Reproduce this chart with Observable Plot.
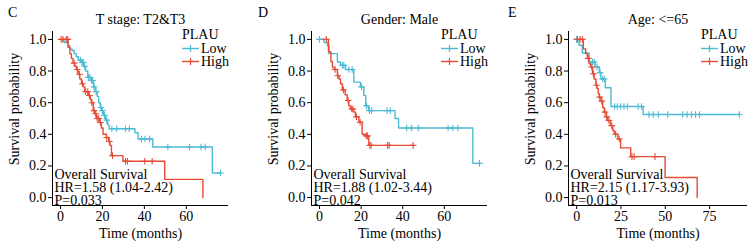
<!DOCTYPE html>
<html><head><meta charset="utf-8">
<script src="https://cdn.jsdelivr.net/npm/d3@7"></script>
<script src="https://cdn.jsdelivr.net/npm/@observablehq/plot@0.6"></script>
<style>
body{margin:0;background:#fff;}
#wrap{position:relative;width:749px;height:245px;font-family:"Liberation Serif","Times New Roman",serif;color:#000;overflow:hidden}
.panel{position:absolute;top:0;overflow:visible}
svg.panel, svg.panel text{font-family:"Liberation Serif","Times New Roman",serif !important;font-size:14px !important;}
svg.panel text{fill:#000;}
.letter{position:absolute;font-size:14px;top:5px}
.ylab{position:absolute;font-size:14px;white-space:nowrap;line-height:16px;transform:translate(-50%,-50%) rotate(-90deg);}
.legend{position:absolute;font-size:14px;line-height:13.5px;top:28px}
.legend div{white-space:nowrap;height:13.5px}
.legend svg{vertical-align:middle;margin-right:2px;position:relative;top:-1px}
</style></head><body><div id="wrap"></div>
<script>
// ---------- data ----------
const panelLetters = ["C", "D", "E"];
const panelTitles = ["T stage: T2&T3", "Gender: Male", "Age: <=65"];
const groups = ["Low", "High"];
const groupColors = ["#4DBBD5", "#E64B35"];
const legendTitle = "PLAU";
const annotations = [
  "Overall Survival\nHR=1.58 (1.04-2.42)\nP=0.033",
  "Overall Survival\nHR=1.88 (1.02-3.44)\nP=0.042",
  "Overall Survival\nHR=2.15 (1.17-3.93)\nP=0.013"
];
const xTicksC = [0, 20, 40, 60];
const xTicksD = [0, 20, 40, 60];
const xTicksE = [0, 25, 50, 75];
const yTicks = [0, 0.2, 0.4, 0.6, 0.8, 1.0];
const xLabel = "Time (months)";
const yLabel = "Survival probability";

// Panel C
const cLowTime = [1, 2, 3.5, 4.5, 5.5, 6.5, 7.5, 8.5, 9.8, 11, 12, 13, 14.5, 15.8, 16.5, 17.5, 18.2, 19, 19.6, 20.5, 21.5, 22.5, 23.2, 35.5, 37, 44, 72.4];
const cLowSurv = [0.99, 0.98, 0.96, 0.94, 0.93, 0.91, 0.89, 0.87, 0.855, 0.83, 0.80, 0.76, 0.74, 0.70, 0.67, 0.64, 0.60, 0.57, 0.55, 0.52, 0.49, 0.46, 0.435, 0.41, 0.37, 0.32, 0.155];
const cLowCensor = [9.5, 10.3, 10.8, 11.5, 13.3, 14.0, 14.8, 15.3, 16.0, 17.0, 19.3, 20.0, 21.0, 22.0, 24.5, 26.8, 31.0, 32.8, 38.6, 40.3, 42.5, 51.2, 61.5, 67.0, 69.0, 76.3];
const cHighTime = [3.6, 4.5, 5.2, 6, 6.8, 7.6, 8.4, 9.2, 10, 10.8, 11.6, 13.2, 14.2, 14.8, 15.6, 16.3, 17.1, 18.7, 19.5, 20.3, 21.9, 23.0, 23.6, 24.3, 29.8, 49.7, 67.9];
const cHighSurv = [0.95, 0.91, 0.88, 0.85, 0.83, 0.81, 0.78, 0.75, 0.72, 0.70, 0.67, 0.645, 0.62, 0.60, 0.55, 0.53, 0.50, 0.475, 0.44, 0.40, 0.38, 0.355, 0.33, 0.265, 0.23, 0.115, 0];
const cHighCensor = [0.3, 1.2, 2.8, 3.5, 6.5, 8.0, 9.0, 10.5, 12.0, 13.0, 13.8, 15.0, 16.0, 16.8, 17.5, 18.2, 19.0, 22.0, 23.3, 24.8, 31.0, 31.9, 40.2, 43.7];

// Panel D
const dLowTime = [2.2, 3.8, 4.6, 8.6, 10.1, 12.5, 16.5, 19.7, 21.3, 22.2, 23.6, 36.3, 38.0, 73.7];
const dLowSurv = [0.98, 0.96, 0.91, 0.857, 0.836, 0.81, 0.73, 0.70, 0.646, 0.58, 0.55, 0.50, 0.44, 0.216];
const dLowCensor = [0, 11.0, 11.7, 14.1, 15.7, 20.2, 22.6, 24.0, 25.0, 32.5, 34.0, 41.9, 44.3, 47.5, 61.8, 64.1, 66.5, 76.9];
const dHighTime = [4.3, 5.5, 6.2, 7.0, 8.6, 9.4, 10.1, 11.0, 12.3, 13.3, 14.1, 14.9, 16.5, 17.3, 18.9, 20.5, 22.0, 23.7];
const dHighSurv = [0.92, 0.86, 0.825, 0.81, 0.77, 0.75, 0.72, 0.68, 0.65, 0.614, 0.58, 0.56, 0.54, 0.51, 0.476, 0.40, 0.39, 0.33];
const dHighCensor = [3.3, 7.5, 8.8, 11.5, 13.8, 15.5, 16.0, 17.8, 19.5, 22.5, 23.0, 24.2, 24.8, 32.7, 33.5, 45.0];

// Panel E
const eLowTime = [1.3, 3.2, 7.05, 10.5, 12.8, 13.7, 16.2, 19.4, 37.5];
const eLowSurv = [0.963, 0.914, 0.857, 0.826, 0.79, 0.75, 0.694, 0.576, 0.525];
const eLowCensor = [0, 8.95, 9.9, 11.5, 13.3, 14.7, 15.6, 21.4, 22.9, 24.8, 26.7, 28.6, 34.7, 36.6, 40.8, 43.2, 46.1, 51.4, 59.8, 62.3, 64.8, 67.1, 69.3, 91.8];
const eHighTime = [3.8, 5.1, 6.1, 7.05, 8.0, 9.0, 9.9, 10.9, 11.5, 12.2, 12.8, 13.7, 14.7, 15.6, 16.6, 17.5, 19.05, 20.4, 21.3, 23.2, 24.8, 30.5, 49.9, 68.0];
const eHighSurv = [0.94, 0.91, 0.88, 0.846, 0.826, 0.783, 0.75, 0.71, 0.69, 0.656, 0.635, 0.61, 0.57, 0.54, 0.51, 0.487, 0.455, 0.423, 0.40, 0.37, 0.314, 0.259, 0.127, 0];
const eHighCensor = [0.4, 1.9, 3.2, 6.6, 8.5, 9.5, 11.2, 13.0, 14.2, 16.0, 17.0, 18.2, 19.8, 22.0, 24.0, 31.2, 32.4, 44.2];

// ---------- helpers ----------
function curvePoints(group, times, surv, censor) {
  const lastT = times[times.length - 1];
  const end = Math.max(lastT, ...censor);
  const pts = [{group, t: 0, s: 1}];
  times.forEach((t, i) => pts.push({group, t, s: surv[i]}));
  if (end > lastT) pts.push({group, t: end, s: surv[surv.length - 1]});
  return pts;
}
function survAt(times, surv, t) {
  let s = 1;
  for (let i = 0; i < times.length; i++) if (times[i] <= t) s = surv[i];
  return s;
}
function censorPoints(group, times, surv, censor) {
  return censor.map(t => ({group, t, s: survAt(times, surv, t)}));
}
const plusSymbol = {
  draw(ctx, size) {
    const r = Math.sqrt(size / Math.PI);
    ctx.moveTo(-r, 0); ctx.lineTo(r, 0);
    ctx.moveTo(0, -r); ctx.lineTo(0, r);
  }
};

const panels = [
  {low: [cLowTime, cLowSurv, cLowCensor], high: [cHighTime, cHighSurv, cHighCensor], ticks: xTicksC,
   left: 0, width: 250, marginLeft: 52, marginRight: 22},
  {low: [dLowTime, dLowSurv, dLowCensor], high: [dHighTime, dHighSurv, dHighCensor], ticks: xTicksD,
   left: 250, width: 250, marginLeft: 61, marginRight: 13},
  {low: [eLowTime, eLowSurv, eLowCensor], high: [eHighTime, eHighSurv, eHighCensor], ticks: xTicksE,
   left: 500, width: 249, marginLeft: 68, marginRight: 2}
];

const wrap = document.getElementById("wrap");
const yDom = [-0.05, 1.05];

panels.forEach((p, i) => {
  const lines = [...curvePoints("Low", ...p.low), ...curvePoints("High", ...p.high)];
  const cens = [...censorPoints("Low", ...p.low), ...censorPoints("High", ...p.high)];
  const maxT = d3.max(lines, d => d.t);
  const xDom = [-0.05 * maxT, 1.05 * maxT];
  const chart = Plot.plot({
    width: p.width, height: 245,
    marginTop: 31, marginBottom: 40, marginLeft: p.marginLeft, marginRight: p.marginRight,
    style: {background: "transparent", overflow: "visible"},
    x: {domain: xDom, ticks: p.ticks, tickSize: 4, tickPadding: 2, label: null},
    y: {domain: yDom, ticks: yTicks, tickFormat: d3.format(".1f"), tickSize: 4, tickPadding: 2, label: null},
    color: {domain: groups, range: groupColors},
    marks: [
      Plot.ruleX([xDom[0]], {stroke: "#000", strokeWidth: 1}),
      Plot.ruleY([yDom[0]], {stroke: "#000", strokeWidth: 1}),
      Plot.line(lines, {x: "t", y: "s", z: "group", stroke: "group", curve: "step-after", strokeWidth: 1.4}),
      Plot.dot(cens, {x: "t", y: "s", stroke: "group", fill: "none", symbol: plusSymbol, r: 3.3, strokeWidth: 1.1}),
      Plot.text([annotations[i]], {frameAnchor: "bottom-left", textAnchor: "start", lineAnchor: "bottom", lineHeight: 0.9, dx: 2, dy: -1, fill: "#000"}),
      Plot.text([panelTitles[i]], {frameAnchor: "top", textAnchor: "middle", lineAnchor: "middle", dy: -12, fill: "#000"}),
      Plot.text([xLabel], {frameAnchor: "bottom", textAnchor: "middle", lineAnchor: "middle", dy: 28, fill: "#000"})
    ]
  });
  chart.classList.add("panel");
  chart.style.left = p.left + "px";
  wrap.appendChild(chart);

  const letter = document.createElement("div");
  letter.className = "letter";
  letter.textContent = panelLetters[i];
  letter.style.left = (p.left + 8) + "px";
  wrap.appendChild(letter);

  const yl = document.createElement("div");
  yl.className = "ylab";
  yl.textContent = yLabel;
  yl.style.left = (p.left + p.marginLeft - 37) + "px";
  yl.style.top = "109px";
  wrap.appendChild(yl);

  const frameRight = p.left + p.width - p.marginRight;
  const lg = document.createElement("div");
  lg.className = "legend";
  lg.style.left = (frameRight - 46) + "px";
  let html = `<div>${legendTitle}</div>`;
  groups.forEach((g, k) => {
    html += `<div><svg width="17" height="9"><line x1="0" y1="4.5" x2="17" y2="4.5" stroke="${groupColors[k]}" stroke-width="1.4"/><line x1="8.5" y1="1" x2="8.5" y2="8" stroke="${groupColors[k]}" stroke-width="1.2"/></svg>${g}</div>`;
  });
  lg.innerHTML = html;
  wrap.appendChild(lg);
});
</script></body></html>
